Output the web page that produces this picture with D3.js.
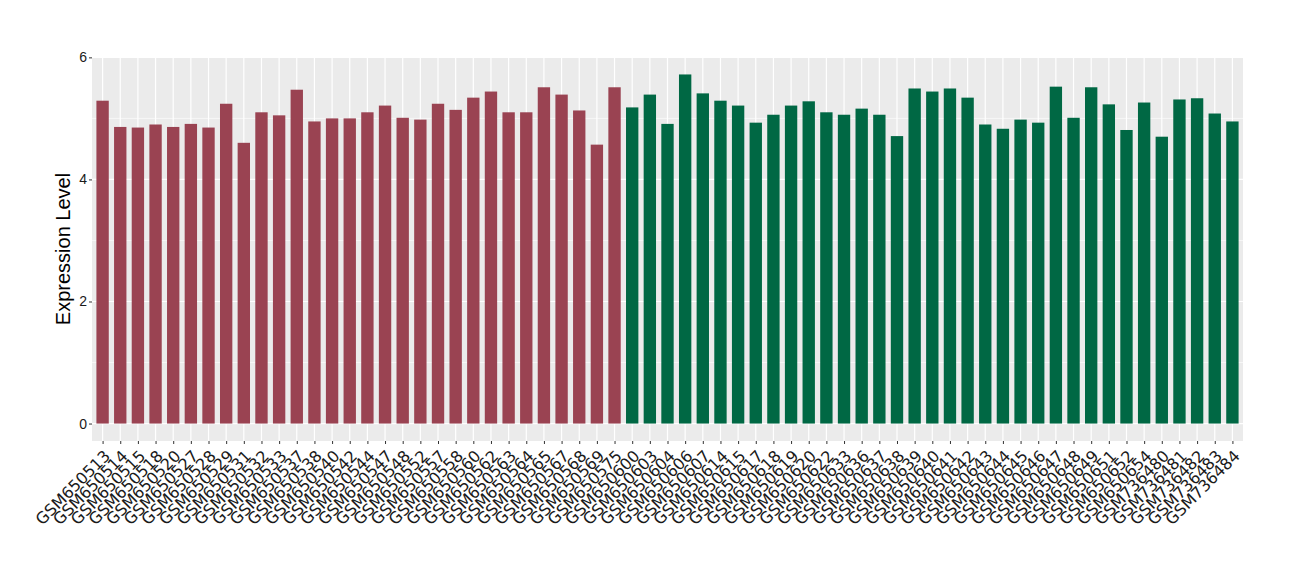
<!DOCTYPE html>
<html>
<head>
<meta charset="utf-8">
<script src="https://cdn.jsdelivr.net/npm/d3@7"></script>
<style>
body { margin: 0; background: #fff; }
svg { font-family: "Liberation Sans", Arial, sans-serif; }
</style>
</head>
<body>
<script>
var samplesA = ["GSM650513","GSM650514","GSM650515","GSM650518","GSM650520","GSM650527","GSM650528","GSM650529","GSM650531","GSM650532",
  "GSM650533","GSM650537","GSM650538","GSM650540","GSM650542","GSM650544","GSM650547","GSM650548","GSM650552","GSM650557",
  "GSM650558","GSM650560","GSM650562","GSM650563","GSM650564","GSM650565","GSM650567","GSM650568","GSM650569","GSM650575"];
var valuesA = [5.29,4.86,4.85,4.90,4.86,4.91,4.85,5.24,4.60,5.10,
  5.05,5.47,4.95,5.00,5.00,5.10,5.21,5.01,4.98,5.24,
  5.14,5.34,5.44,5.10,5.10,5.51,5.39,5.13,4.57,5.51];
var samplesB = ["GSM650600","GSM650603","GSM650604","GSM650606","GSM650607","GSM650614","GSM650615","GSM650617","GSM650618","GSM650619",
  "GSM650620","GSM650622","GSM650633","GSM650636","GSM650637","GSM650638","GSM650639","GSM650640","GSM650641","GSM650642",
  "GSM650643","GSM650644","GSM650645","GSM650646","GSM650647","GSM650648","GSM650649","GSM650651","GSM650652","GSM650654",
  "GSM736480","GSM736481","GSM736482","GSM736483","GSM736484"];
var valuesB = [5.18,5.39,4.91,5.72,5.41,5.29,5.21,4.93,5.06,5.21,
  5.28,5.10,5.06,5.16,5.06,4.71,5.49,5.44,5.49,5.34,
  4.90,4.83,4.98,4.93,5.52,5.01,5.51,5.23,4.81,5.26,
  4.70,5.31,5.33,5.08,4.95];
var yTicks = [0, 2, 4, 6];
var colorA = "#9a4352", colorB = "#006844";

var data = samplesA.map((s, i) => ({name: s, value: valuesA[i], color: colorA}))
  .concat(samplesB.map((s, i) => ({name: s, value: valuesB[i], color: colorB})));

var W = 1300, H = 580;
var margin = {top: 57, right: 57, bottom: 139, left: 92};
var width = W - margin.left - margin.right,
    height = H - margin.top - margin.bottom;

var svg = d3.select("body").append("svg")
    .attr("width", W).attr("height", H);
var g = svg.append("g")
    .attr("transform", "translate(" + margin.left + "," + margin.top + ")");

var maxV = d3.max(data, d => d.value);
var y = d3.scaleLinear()
    .domain([-0.05 * maxV, maxV * 1.05])
    .range([height, 0]);

var x = d3.scalePoint()
    .domain(data.map(d => d.name))
    .range([0, width])
    .padding(0.6);
var bw = x.step() * 0.7;

// panel
g.append("rect")
    .attr("width", width).attr("height", height)
    .attr("fill", "#ebebeb");

// grid
[1, 3, 5].forEach(v => {
  g.append("line")
    .attr("x1", 0).attr("x2", width)
    .attr("y1", y(v)).attr("y2", y(v))
    .attr("stroke", "#fff").attr("stroke-width", 0.6);
});
yTicks.forEach(v => {
  g.append("line")
    .attr("x1", 0).attr("x2", width)
    .attr("y1", y(v)).attr("y2", y(v))
    .attr("stroke", "#fff").attr("stroke-width", 1.2);
});
data.forEach(d => {
  g.append("line")
    .attr("x1", x(d.name)).attr("x2", x(d.name))
    .attr("y1", 0).attr("y2", height)
    .attr("stroke", "#fff").attr("stroke-width", 1.2);
});

// bars
g.selectAll(".bar")
  .data(data)
  .enter().append("rect")
    .attr("class", "bar")
    .attr("x", d => x(d.name) - bw / 2)
    .attr("width", bw)
    .attr("y", d => y(d.value))
    .attr("height", d => y(0) - y(d.value))
    .attr("fill", d => d.color);

// y axis
var yAxis = g.append("g")
    .call(d3.axisLeft(y).tickValues(yTicks).tickFormat(d3.format("d")).tickSize(3).tickPadding(2));
yAxis.select(".domain").remove();
yAxis.selectAll(".tick line").attr("stroke", "#333");
yAxis.selectAll("text").attr("font-size", 14).attr("fill", "#1a1a1a");

// x axis
var xAxis = g.append("g")
    .attr("transform", "translate(0," + height + ")")
    .call(d3.axisBottom(x).tickSize(3));
xAxis.select(".domain").remove();
xAxis.selectAll(".tick line").attr("stroke", "#333");
xAxis.selectAll("text")
    .attr("font-family", "'DejaVu Sans', sans-serif")
    .attr("font-size", 16)
    .attr("fill", "#1a1a1a")
    .attr("text-anchor", "end")
    .attr("y", 0)
    .attr("dy", 0)
    .attr("transform", "translate(8,16) rotate(-45)");

// y title
svg.append("text")
    .attr("transform", "translate(70," + (margin.top + height / 2) + ") rotate(-90)")
    .attr("text-anchor", "middle")
    .attr("font-size", 20)
    .attr("fill", "#000")
    .text("Expression Level");
</script>
</body>
</html>
